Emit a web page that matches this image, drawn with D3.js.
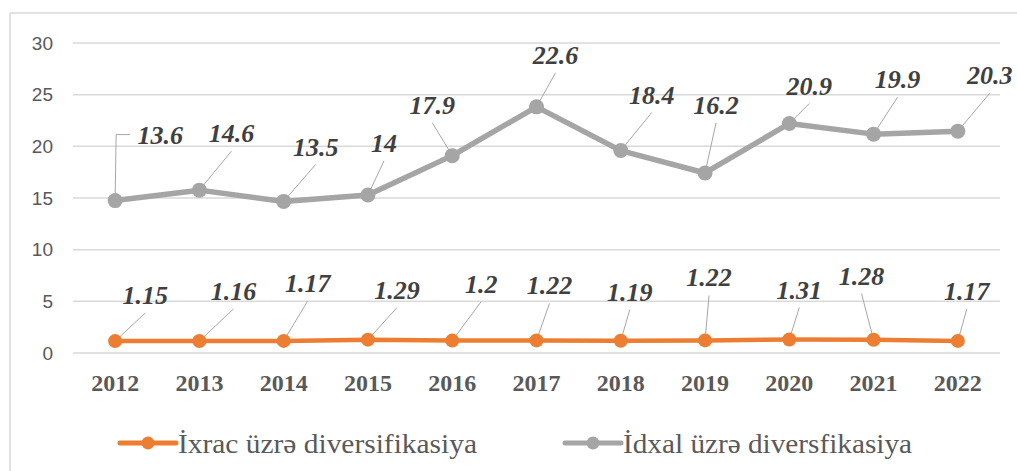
<!DOCTYPE html>
<html>
<head>
<meta charset="utf-8">
<script src="https://cdn.jsdelivr.net/npm/d3@7"></script>
<style>
  body { margin: 0; background: #fff; }
  #chart { width: 1017px; height: 471px; }
</style>
</head>
<body>
<div id="chart"></div>
<script>
const years = ["2012", "2013", "2014", "2015", "2016", "2017", "2018", "2019", "2020", "2021", "2022"];
const exportDiv = [1.15, 1.16, 1.17, 1.29, 1.2, 1.22, 1.19, 1.22, 1.31, 1.28, 1.17];
const importDiv = [13.6, 14.6, 13.5, 14, 17.9, 22.6, 18.4, 16.2, 20.9, 19.9, 20.3];
const seriesNames = ["İxrac üzrə diversifikasiya", "İdxal üzrə diversfikasiya"];
const yTicks = [0, 5, 10, 15, 20, 25, 30];

// label placement (px offsets from the point)
const exportLabelOffset = [[30,-46],[34,-50],[24,-58],[29,-50],[29,-57],[13,-55],[9,-49],[4,-63],[10,-50],[-12,-64],[9,-50]];
const importLabelOffset = [[45,-66],[32,-57],[32,-55],[16,-52],[-20,-51],[19,-52],[31,-56],[11,-68],[20,-38],[24,-55],[32,-56]];

const colors = ["#ED7D31", "#A5A5A5"];
const serif = "'Liberation Serif', 'Times New Roman', 'DejaVu Serif', serif";
const width = 1017, height = 471;
const margin = { left: 73, right: 17, top: 43, bottom: 118 };

const svg = d3.select("#chart").append("svg")
  .attr("width", width)
  .attr("height", height);

// chart frame (only top and left edges are visible)
svg.append("line").attr("x1", 10).attr("x2", width).attr("y1", 13).attr("y2", 13)
  .attr("stroke", "#d9d9d9").attr("stroke-width", 1.5);
svg.append("line").attr("x1", 10).attr("x2", 10).attr("y1", 13).attr("y2", height)
  .attr("stroke", "#d9d9d9").attr("stroke-width", 1.5);

const x = d3.scaleBand().domain(years).range([margin.left, width - margin.right]);
const y = d3.scaleLinear().domain([0, 30]).range([height - margin.bottom, margin.top]);

// gridlines
svg.append("g").selectAll("line").data(yTicks).join("line")
  .attr("x1", margin.left).attr("x2", width - margin.right)
  .attr("y1", d => y(d)).attr("y2", d => y(d))
  .attr("stroke", "#d9d9d9").attr("stroke-width", 1.5);

// y axis labels
const yAxis = d3.axisLeft(y).tickValues(yTicks).tickSize(0).tickPadding(20);
svg.append("g").attr("transform", `translate(${margin.left},0)`).call(yAxis)
  .call(g => g.select(".domain").remove())
  .selectAll("text")
  .attr("font-family", "'Liberation Sans', Arial, sans-serif")
  .attr("font-size", 19).attr("fill", "#595959");

// x axis labels
const xAxis = d3.axisBottom(x).tickSize(0).tickPadding(21);
svg.append("g").attr("transform", `translate(0,${y(0)})`).call(xAxis)
  .call(g => g.select(".domain").remove())
  .selectAll("text")
  .attr("font-family", serif)
  .attr("font-weight", "bold")
  .attr("font-size", 24).attr("fill", "#595959");

// stacked line chart: import sits on top of export
const table = years.map((yr, i) => ({ year: yr, exp: exportDiv[i], imp: importDiv[i] }));
const stacked = d3.stack().keys(["exp", "imp"])(table);

const line = d3.line()
  .x(d => x(d.data.year) + x.bandwidth() / 2)
  .y(d => y(d[1]));

const offsets = [exportLabelOffset, importLabelOffset];
const values = [exportDiv, importDiv];
const widths = [4.5, 5.5];
const radii = [7, 7.5];

// leader lines first, so markers sit on top
stacked.forEach((s, k) => {
  svg.append("g").selectAll("path").data(s).join("path")
    .attr("fill", "none").attr("stroke", "#a6a6a6").attr("stroke-width", 1)
    .attr("d", (d, i) => {
      const px = x(d.data.year) + x.bandwidth() / 2, py = y(d[1]);
      const [dx, dy] = offsets[k][i];
      if (k === 1 && i === 0) {
        // elbow leader for the first import label
        const ly = py + dy;
        return `M${px},${py} L${px + 1},${ly} L${px + dx - 30},${ly}`;
      }
      return `M${px},${py} L${px + dx},${py + dy + 18}`;
    });
});

stacked.forEach((s, k) => {
  svg.append("path").datum(s)
    .attr("fill", "none")
    .attr("stroke", colors[k])
    .attr("stroke-width", widths[k])
    .attr("stroke-linejoin", "round")
    .attr("d", line);

  svg.append("g").selectAll("circle").data(s).join("circle")
    .attr("cx", d => x(d.data.year) + x.bandwidth() / 2)
    .attr("cy", d => y(d[1]))
    .attr("r", radii[k])
    .attr("fill", colors[k]);

  svg.append("g").selectAll("text").data(s).join("text")
    .attr("x", (d, i) => x(d.data.year) + x.bandwidth() / 2 + offsets[k][i][0])
    .attr("y", (d, i) => y(d[1]) + offsets[k][i][1])
    .attr("dy", "0.35em")
    .attr("text-anchor", "middle")
    .attr("font-family", serif)
    .attr("font-style", "italic")
    .attr("font-weight", "bold")
    .attr("font-size", 26)
    .attr("fill", "#404040")
    .text((d, i) => values[k][i]);
});

// legend
const legendX = [120, 565];
const legendTextLen = [299, 289];
const legend = svg.append("g").selectAll("g").data(seriesNames).join("g")
  .attr("transform", (d, i) => `translate(${legendX[i]},443)`);
legend.append("line")
  .attr("x1", 0).attr("x2", 56).attr("y1", 0).attr("y2", 0)
  .attr("stroke", (d, i) => colors[i]).attr("stroke-width", 5)
  .attr("stroke-linecap", "round");
legend.append("circle")
  .attr("cx", 28).attr("cy", 0).attr("r", 6.5)
  .attr("fill", (d, i) => colors[i]);
legend.append("text")
  .attr("x", 58).attr("y", 0).attr("dy", "0.35em")
  .style("font-family", serif)
  .attr("font-size", 28).attr("fill", "#595959")
  .attr("textLength", (d, i) => legendTextLen[i])
  .attr("lengthAdjust", "spacingAndGlyphs")
  .text(d => d);
</script>
</body>
</html>
